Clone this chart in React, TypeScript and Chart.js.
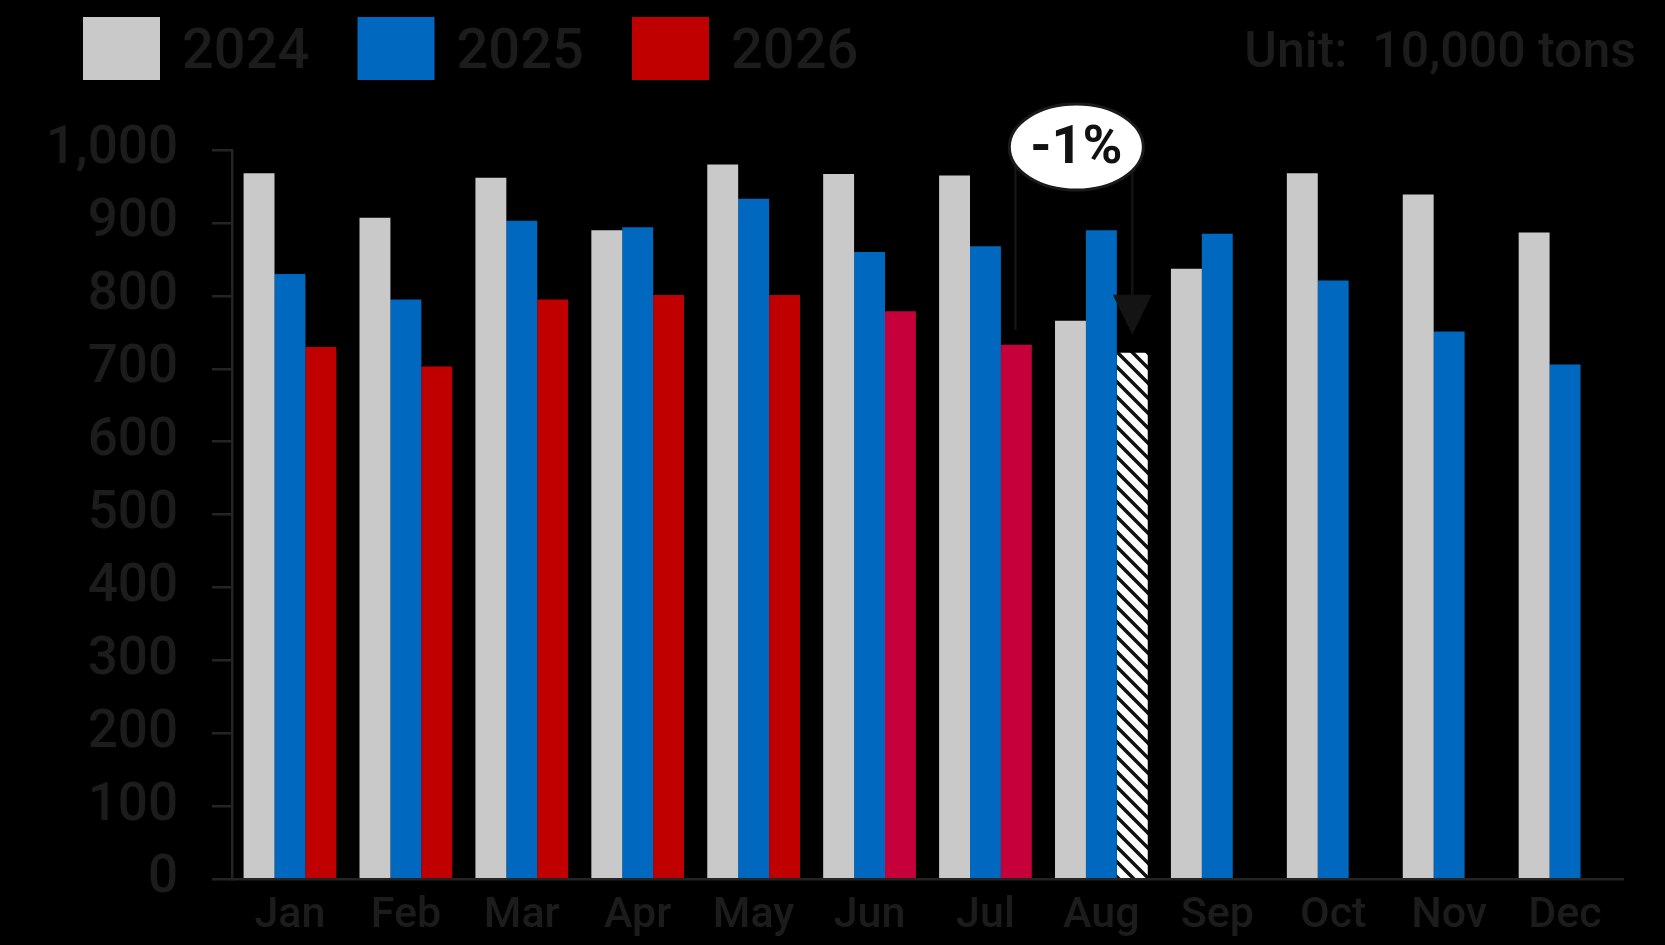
import { useEffect, useRef } from 'react'
import { Chart, registerables } from 'chart.js'
import type { ChartConfiguration, Plugin } from 'chart.js'

Chart.register(...registerables)

const FONT = 'Roboto, "Liberation Sans", Arial, sans-serif'
const TEXT = '#1c1c1c'
const AXIS = '#242424'

// data (unit: 10,000 tons)
const months = ['Jan', 'Feb', 'Mar', 'Apr', 'May', 'Jun', 'Jul', 'Aug', 'Sep', 'Oct', 'Nov', 'Dec']
const years = ['2024', '2025', '2026']
const values2024 = [968, 907, 962, 890, 980, 967, 965, 766, 837, 968, 939, 887]
const values2025 = [830, 795, 903, 894, 933, 860, 868, 890, 885, 821, 751, 706]
const values2026 = [730, 703, 795, 801, 801, 779, 733, 722, null, null, null, null]
const yTicks = [0, 100, 200, 300, 400, 500, 600, 700, 800, 900, 1000]
const changeLabel = '-1%'
const unitLabel = 'Unit:  10,000 tons'

const seriesColors = ['#c9c9c9', '#0069bf', '#c00000']
const red2026 = ['#c00000', '#c00000', '#c00000', '#c00000', '#c00000', '#c6003a', '#c6003a']

function hatchPattern(): CanvasPattern | string {
  const s = 15
  const c = document.createElement('canvas')
  c.width = s
  c.height = s
  const g = c.getContext('2d')
  if (!g) return '#ffffff'
  g.fillStyle = '#ffffff'
  g.fillRect(0, 0, s, s)
  g.strokeStyle = '#111111'
  g.lineWidth = 3.5
  g.beginPath()
  g.moveTo(-2, -2)
  g.lineTo(s + 2, s + 2)
  g.moveTo(-2, s - 2)
  g.lineTo(2, s + 2)
  g.moveTo(s - 2, -2)
  g.lineTo(s + 2, 2)
  g.stroke()
  return g.createPattern(c, 'repeat') ?? '#ffffff'
}

const overlay: Plugin<'bar'> = {
  id: 'overlay',
  afterDraw(chart) {
    const { ctx } = chart
    ctx.save()

    // legend
    ctx.textBaseline = 'middle'
    ctx.textAlign = 'left'
    ctx.font = `500 56px ${FONT}`
    years.forEach((y, i) => {
      const x = 83 + i * 274.5
      ctx.fillStyle = seriesColors[i]
      ctx.fillRect(x, 17, 77, 63)
      ctx.fillStyle = TEXT
      ctx.fillText(y, x + 99, 54)
    })

    // unit
    ctx.textAlign = 'right'
    ctx.font = `500 50px ${FONT}`
    ctx.fillText(unitLabel, 1636, 54)

    // change annotation Jul -> Aug 2026
    const meta = chart.getDatasetMeta(2)
    const jul = meta.data[6] as any
    const aug = meta.data[7] as any
    const yScale = chart.scales.y
    const cx = (jul.x + aug.x) / 2 + 2
    const cy = yScale.getPixelForValue(1004)
    ctx.strokeStyle = '#141414'
    ctx.fillStyle = '#141414'
    ctx.lineWidth = 2.5
    ctx.beginPath()
    ctx.moveTo(jul.x - 1, cy)
    ctx.lineTo(jul.x - 1, jul.y - 15)
    ctx.moveTo(aug.x, cy)
    ctx.lineTo(aug.x, aug.y - 58)
    ctx.stroke()
    ctx.beginPath()
    ctx.moveTo(aug.x - 19.5, aug.y - 58)
    ctx.lineTo(aug.x + 19.5, aug.y - 58)
    ctx.lineTo(aug.x, aug.y - 18)
    ctx.closePath()
    ctx.fill()

    ctx.beginPath()
    ctx.ellipse(cx, cy, 67, 43, 0, 0, Math.PI * 2)
    ctx.fillStyle = '#ffffff'
    ctx.fill()
    ctx.lineWidth = 3
    ctx.strokeStyle = '#1a1a1a'
    ctx.stroke()
    ctx.fillStyle = '#111111'
    ctx.textAlign = 'center'
    ctx.font = `bold 54px ${FONT}`
    ctx.fillText(changeLabel, cx, cy + 2)

    ctx.restore()
  },
}

export default function App() {
  const ref = useRef<HTMLCanvasElement>(null)

  useEffect(() => {
    if (!ref.current) return
    const hatch = hatchPattern()
    const config: ChartConfiguration<'bar'> = {
      type: 'bar',
      data: {
        labels: months,
        datasets: [
          { label: years[0], data: values2024, backgroundColor: seriesColors[0] },
          { label: years[1], data: values2025, backgroundColor: seriesColors[1] },
          { label: years[2], data: values2026 as any, backgroundColor: [...red2026, hatch] as any },
        ],
      },
      options: {
        responsive: false,
        animation: false,
        devicePixelRatio: 1,
        datasets: { bar: { categoryPercentage: 0.8, barPercentage: 1, borderWidth: 0 } },
        layout: { padding: { top: 150, right: 42, bottom: 0, left: 0 } },
        plugins: { legend: { display: false }, tooltip: { enabled: false } },
        scales: {
          x: {
            grid: { display: false, drawTicks: false },
            border: { display: true, color: AXIS, width: 2.5 },
            ticks: { color: TEXT, font: { family: FONT, size: 43, weight: 500 }, padding: 11 },
            afterFit: (s) => {
              s.height = 64
            },
          },
          y: {
            min: 0,
            max: 1000,
            afterBuildTicks: (s) => {
              s.ticks = yTicks.map((v) => ({ value: v }))
            },
            grid: { drawOnChartArea: false, drawTicks: true, tickLength: 20, color: AXIS, lineWidth: 2.5 },
            border: { display: true, color: AXIS, width: 2.5 },
            ticks: {
              color: TEXT,
              font: { family: FONT, size: 53, weight: 500 },
              padding: 34,
              callback: (v) => Number(v).toLocaleString('en-US'),
            },
            afterFit: (s) => {
              s.width = 232
            },
          },
        },
      },
      plugins: [overlay],
    }
    const chart = new Chart(ref.current, config)
    return () => chart.destroy()
  }, [])

  return (
    <div style={{ position: 'fixed', left: 0, top: 0, width: 1665, height: 945, background: '#000' }}>
      <canvas ref={ref} width={1665} height={945} style={{ display: 'block' }} />
    </div>
  )
}
